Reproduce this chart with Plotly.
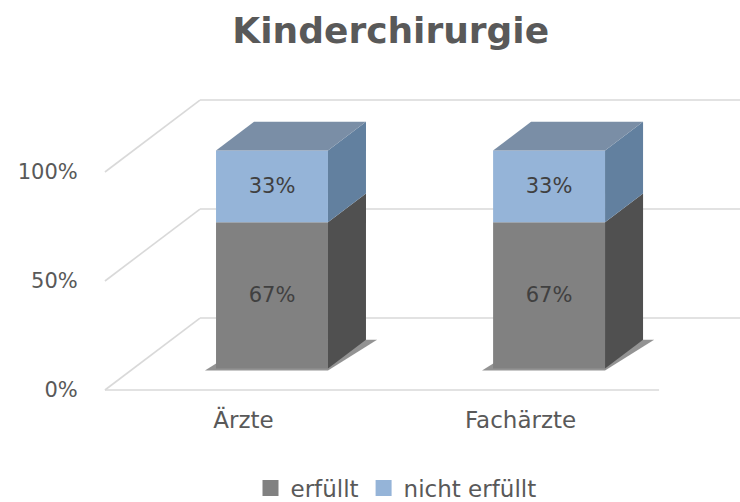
import plotly.graph_objects as go

# ---- data ----
categories = ["Ärzte", "Fachärzte"]
series_names = ["erfüllt", "nicht erfüllt"]
erfuellt = [67, 67]
nicht_erfuellt = [33, 33]
y_tick_values = [0, 50, 100]
y_tick_labels = ["0%", "50%", "100%"]
chart_title = "Kinderchirurgie"

# ---- style (oblique 3-D projection) ----
DX = 0.343      # full floor depth, x units
DY = 33.0       # full floor depth, y units
D0, D1 = 0.3, 0.7   # bar depth span
HW = 0.202      # half bar width
FONT = "DejaVu Sans"
front_colors = ["#818181", "#95b4d8"]
side_colors = ["#505050", "#62809f"]
top_color = "#7a8ea6"
grid_color = "#d9d9d9"

fig = go.Figure()
xs = list(range(len(categories)))
x_lo, x_hi = -0.5, len(categories) - 0.5

# grid: side wall diagonals + back wall lines
for v in y_tick_values:
    fig.add_trace(go.Scatter(x=[x_lo, x_lo + DX], y=[v, v + DY], mode="lines",
                             line=dict(color=grid_color, width=1.6),
                             hoverinfo="skip", showlegend=False, zorder=0))
    fig.add_trace(go.Scatter(x=[x_lo + DX, x_hi + DX], y=[v + DY, v + DY], mode="lines",
                             line=dict(color=grid_color, width=1.6),
                             hoverinfo="skip", showlegend=False, zorder=0))
# floor front edge
fig.add_trace(go.Scatter(x=[x_lo, x_hi], y=[0, 0], mode="lines",
                         line=dict(color=grid_color, width=1.6),
                         hoverinfo="skip", showlegend=False, zorder=0))

# shadows on the floor
for i in xs:
    e = 0.04
    px = [i - HW - e + D0 * DX, i + HW + D0 * DX, i + HW + e + D1 * DX, i - HW + D1 * DX, i - HW - e + D0 * DX]
    py = [D0 * DY - 1.0, D0 * DY - 1.0, D1 * DY, D1 * DY, D0 * DY - 1.0]
    fig.add_trace(go.Scatter(x=px, y=py, mode="lines", fill="toself",
                             fillcolor="rgba(40,40,40,0.5)", line=dict(width=0),
                             hoverinfo="skip", showlegend=False, zorder=1))

stack = [erfuellt, nicht_erfuellt]
lo = [0] * len(categories)
for s, (name, vals) in enumerate(zip(series_names, stack)):
    hi = [l + v for l, v in zip(lo, vals)]
    fig.add_trace(go.Bar(
        x=[i + D0 * DX for i in xs], y=vals, base=[l + D0 * DY for l in lo],
        width=2 * HW, name=name, showlegend=False,
        marker=dict(color=front_colors[s], line=dict(width=0)),
        text=[f"{v}%" for v in vals], textposition="inside",
        insidetextanchor="middle", textangle=0,
        textfont=dict(family=FONT, size=21, color="#404040"),
        hoverinfo="skip", zorder=2))
    # right side faces
    for i in xs:
        xa, xb = i + HW + D0 * DX, i + HW + D1 * DX
        px = [xa, xb, xb, xa, xa]
        py = [lo[i] + D0 * DY, lo[i] + D1 * DY, hi[i] + D1 * DY, hi[i] + D0 * DY, lo[i] + D0 * DY]
        fig.add_trace(go.Scatter(x=px, y=py, mode="lines", fill="toself",
                                 fillcolor=side_colors[s], line=dict(width=0),
                                 hoverinfo="skip", showlegend=False, zorder=2))
    lo = hi
    # legend entry (square swatch)
    fig.add_trace(go.Scatter(x=[None], y=[None], mode="markers", name=name,
                             marker=dict(symbol="square", size=16, color=front_colors[s]),
                             showlegend=True, hoverinfo="skip"))

# top faces
for i in xs:
    t = lo[i]
    px = [i - HW + D0 * DX, i + HW + D0 * DX, i + HW + D1 * DX, i - HW + D1 * DX, i - HW + D0 * DX]
    py = [t + D0 * DY, t + D0 * DY, t + D1 * DY, t + D1 * DY, t + D0 * DY]
    fig.add_trace(go.Scatter(x=px, y=py, mode="lines", fill="toself",
                             fillcolor=top_color, line=dict(width=0),
                             hoverinfo="skip", showlegend=False, zorder=2))

fig.update_layout(
    width=740, height=502,
    paper_bgcolor="white", plot_bgcolor="white",
    margin=dict(l=85, r=0, t=60, b=94, autoexpand=False),
    barmode="overlay",
    title=dict(text=chart_title, x=0.528, xref="container", xanchor="center",
               y=1 - 30 / 502, yref="container", yanchor="middle",
               font=dict(family=FONT, size=36, color="#595959", weight="bold")),
    xaxis=dict(range=[-0.572, 1.792], tickvals=xs, ticktext=categories,
               showgrid=False, zeroline=False, showline=False, automargin=False,
               ticks="", ticklabelstandoff=-4,
               tickfont=dict(family=FONT, size=23, color="#595959"), fixedrange=True),
    yaxis=dict(range=[-8.26, 151.38], tickvals=y_tick_values, ticktext=y_tick_labels,
               showgrid=False, zeroline=False, showline=False, automargin=False,
               ticks="outside", ticklen=2, tickcolor="rgba(0,0,0,0)",
               tickfont=dict(family=FONT, size=21, color="#595959"), fixedrange=True),
    legend=dict(orientation="h", xref="container", yref="container",
                x=396 / 740, xanchor="center",
                y=1 - 488 / 502, yanchor="middle",
                font=dict(family=FONT, size=23, color="#595959"),
                itemwidth=30, traceorder="normal", itemclick=False),
)

fig.write_html("out.html", config={"displayModeBar": False},
               post_script="document.body.style.margin='0';document.body.style.padding='0';")
